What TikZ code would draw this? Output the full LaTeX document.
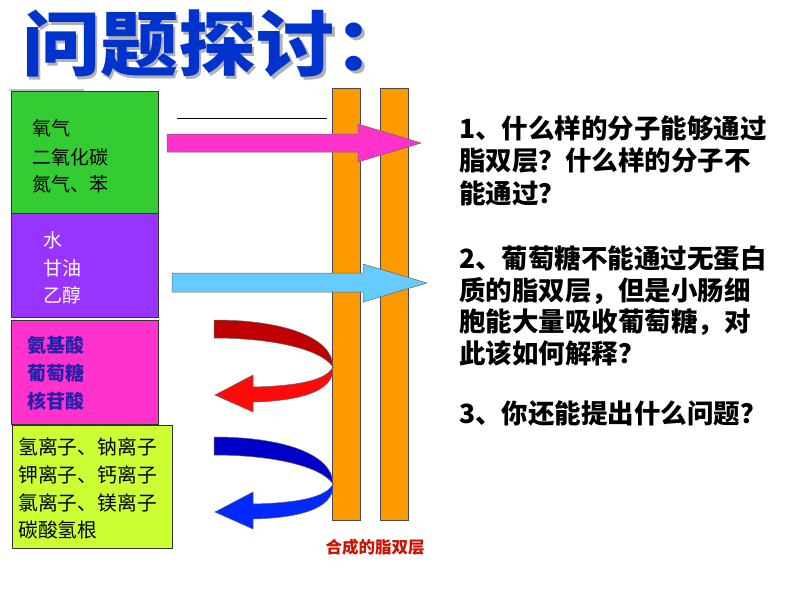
\documentclass[tikz,border=0pt]{standalone}
\usepackage{fontspec}
\setmainfont{Noto Sans CJK SC}
\newfontfamily\cjk{Noto Sans CJK SC}
\begin{document}
\begin{tikzpicture}[x=1pt,y=-1pt,
  lbl/.style={anchor=west,inner sep=0pt,font=\cjk\fontsize{19}{19}\selectfont},
  qtxt/.style={anchor=west,inner sep=0pt,font=\cjk\bfseries\fontsize{26.5}{26.5}\selectfont},
  ttl/.style={anchor=west,inner sep=0pt,xscale=1.1,transform shape,font=\cjk\bfseries\fontsize{71}{71}\selectfont},
  boxs/.style={draw=black!80,line width=0.8pt},
  barstyle/.style={draw=black!70,line width=0.6pt,fill=barorange},
  arr/.style={draw=black!60,line width=0.5pt}]
\definecolor{titleblue}{RGB}{0,51,204}
\definecolor{cgreen}{RGB}{51,204,51}
\definecolor{cpurple}{RGB}{153,51,255}
\definecolor{cmagenta}{RGB}{255,51,204}
\definecolor{cyellow}{RGB}{204,255,51}
\definecolor{barorange}{RGB}{255,153,0}
\definecolor{cskyblue}{RGB}{102,204,255}
\definecolor{txtblue}{RGB}{40,30,170}
\definecolor{labred}{RGB}{204,17,0}
\useasboundingbox (0,0) rectangle (800,600);
\fill[white] (0,0) rectangle (800,600);
% title with shadow
\node[ttl,text=black!30] (titleshadow) at (24.5,46.5) {问题探讨：};
\node[ttl,text=titleblue] (title) at (22,44) {问题探讨：};
% faint line
\draw[black!25,line width=1.2pt] (9,90) coordinate (g1) -- (84,90) coordinate (g2);
% boxes
\node[boxs,fill=cgreen,minimum width=147pt,minimum height=122pt,anchor=north west,inner sep=0pt] (boxA) at (11,91) {};
\node[boxs,fill=cpurple,minimum width=147pt,minimum height=104pt,anchor=north west,inner sep=0pt] (boxB) at (11,213) {};
\node[boxs,fill=cmagenta,minimum width=147pt,minimum height=104pt,anchor=north west,inner sep=0pt] (boxC) at (11,320) {};
\node[boxs,fill=cyellow,minimum width=160pt,minimum height=123pt,anchor=north west,inner sep=0pt] (boxD) at (12,425) {};
% box texts
\node[lbl] (a1) at (32,128) {氧气};
\node[lbl] (a2) at (32,157) {二氧化碳};
\node[lbl] (a3) at (32,184) {氮气、苯};
\node[lbl,text=white] (b1) at (43,240) {水};
\node[lbl,text=white] (b2) at (43,268) {甘油};
\node[lbl,text=white] (b3) at (43,295) {乙醇};
\node[lbl,text=txtblue,font=\cjk\bfseries\fontsize{19}{19}\selectfont] (c1) at (27,345) {氨基酸};
\node[lbl,text=txtblue,font=\cjk\bfseries\fontsize{19}{19}\selectfont] (c2) at (27,373) {葡萄糖};
\node[lbl,text=txtblue,font=\cjk\bfseries\fontsize{19}{19}\selectfont] (c3) at (27,401) {核苷酸};
\node[lbl,font=\cjk\fontsize{19.8}{19.8}\selectfont] (d1) at (18,447) {氢离子、钠离子};
\node[lbl,font=\cjk\fontsize{19.8}{19.8}\selectfont] (d2) at (18,475) {钾离子、钙离子};
\node[lbl,font=\cjk\fontsize{19.8}{19.8}\selectfont] (d3) at (18,503) {氯离子、镁离子};
\node[lbl,font=\cjk\fontsize{19.8}{19.8}\selectfont] (d4) at (18,530) {碳酸氢根};
% bilayer bars
\node[barstyle,minimum width=28pt,minimum height=432pt,anchor=north west,inner sep=0pt] (bar1) at (332,88) {};
\node[barstyle,minimum width=28pt,minimum height=432pt,anchor=north west,inner sep=0pt] (bar2) at (380,88) {};
\node[anchor=center,inner sep=0pt,text=labred,font=\cjk\bfseries\fontsize{16.5}{16.5}\selectfont] (barlabel) at (375,547) {合成的脂双层};
% thin black line
\draw[black,line width=0.8pt] (177,118) coordinate (l1) -- (327,118) coordinate (l2);
% straight arrows
\filldraw[arr,fill=cmagenta] (167,134) -- (358,134) -- (358,124) -- (421,143) -- (358,162) -- (358,152) -- (167,152) -- cycle;
\filldraw[arr,fill=cskyblue] (172,273) -- (363,273) -- (363,264) -- (427,283) -- (363,302) -- (363,292) -- (172,292) -- cycle;
% red curved arrow
\filldraw[arr,fill={rgb,255:red,190;green,0;blue,0}] (214,320) .. controls (285,320) and (333,338) .. (333,367) .. controls (322,350) and (275,338) .. (214,338) -- cycle;
\filldraw[arr,fill={rgb,255:red,255;green,10;blue,10}] (333,367) .. controls (335,393) and (295,401) .. (253,402) -- (253,412) -- (215,395) -- (253,375) -- (253,387) .. controls (295,386) and (326,381) .. (333,367) -- cycle;
% blue curved arrow
\begin{scope}[yshift=-117pt]
\filldraw[arr,fill={rgb,255:red,0;green,0;blue,200}] (214,320) .. controls (285,320) and (333,338) .. (333,367) .. controls (322,350) and (275,338) .. (214,338) -- cycle;
\filldraw[arr,fill={rgb,255:red,0;green,40;blue,255}] (333,367) .. controls (335,393) and (295,401) .. (253,402) -- (253,412) -- (215,395) -- (253,375) -- (253,387) .. controls (295,386) and (326,381) .. (333,367) -- cycle;
\end{scope}
% questions
\node[qtxt] (q1) at (459,128) {1、什么样的分子能够通过};
\node[qtxt] (q2) at (459,161) {脂双层？什么样的分子不};
\node[qtxt] (q3) at (459,193) {能通过？};
\node[qtxt] (q4) at (459,258) {2、葡萄糖不能通过无蛋白};
\node[qtxt] (q5) at (459,291) {质的脂双层，但是小肠细};
\node[qtxt] (q6) at (459,322) {胞能大量吸收葡萄糖，对};
\node[qtxt] (q7) at (459,353) {此该如何解释？};
\node[qtxt] (q8) at (459,414) {3、你还能提出什么问题？};
\end{tikzpicture}
\end{document}
